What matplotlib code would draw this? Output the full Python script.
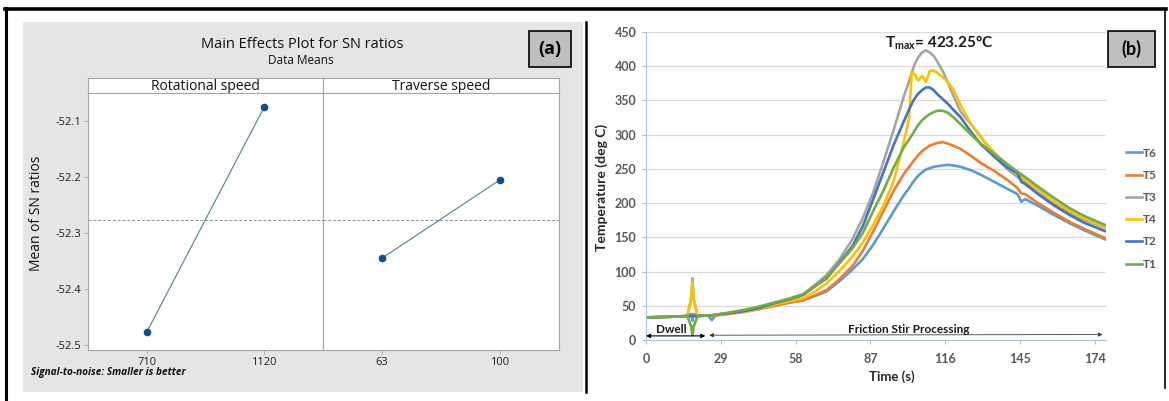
import matplotlib
matplotlib.use("Agg")
import matplotlib.pyplot as plt
from matplotlib.patches import Rectangle

plt.rcParams['font.family'] = ['Open Sans', 'DejaVu Sans']
plt.rcParams['mathtext.fontset'] = 'custom'
plt.rcParams['mathtext.bf'] = 'Lato:bold'
plt.rcParams['mathtext.rm'] = 'Lato'

# ---- (a) main effects for SN ratios ----
rot_levels = ['710', '1120']
rot_sn = [-52.477, -52.075]
trav_levels = ['63', '100']
trav_sn = [-52.345, -52.205]
sn_mean = -52.276
sn_ticks = [-52.5, -52.4, -52.3, -52.2, -52.1]

# ---- (b) thermal cycles ----
time_s = [0, 10, 16, 17.5, 18, 18.5, 20, 24, 25.5, 27, 32, 38, 44, 50, 56,
          61, 66, 70, 75, 80, 84, 88, 92, 96, 100,
          102, 103, 104, 105.5, 107, 108.5, 110, 111.5, 113, 115,
          117, 119, 122, 126, 130, 135, 140, 144, 145.5, 147,
          152, 158, 164, 170, 178]
temp_T6 = [33, 34, 35, 38, 28, 38, 35, 36, 29, 36, 39, 42, 46, 51, 55,
           58, 65, 71, 86, 103, 118, 139, 163, 188, 212,
           222, 228, 233, 240, 245, 249, 251, 253, 254, 255,
           256, 255, 253, 248, 241, 231, 221, 213, 202, 206,
           196, 183, 171, 160, 147]
temp_T5 = [33, 34, 35, 35, 35, 35, 35, 36, 36, 36, 38, 41, 45, 50, 55,
           58, 66, 73, 89, 108, 130, 158, 188, 218, 243,
           253, 258, 263, 270, 276, 280, 284, 286, 288, 289,
           287, 284, 279, 269, 258, 247, 234, 222, 214, 213,
           200, 186, 173, 162, 149]
temp_T3 = [33, 34, 35, 60, 90, 60, 35, 36, 36, 37, 39, 42, 47, 53, 60,
           67, 82, 95, 118, 147, 178, 215, 260, 307, 357,
           378, 390, 402, 413, 420, 423.25, 420, 415, 406, 393,
           376, 358, 333, 315, 296, 268, 250, 238, 234, 230,
           215, 199, 186, 175, 164]
temp_T4 = [33, 34, 35, 60, 85, 60, 35, 36, 36, 37, 39, 41, 46, 52, 57,
           61, 72, 83, 101, 122, 142, 168, 196, 232, 290,
           325, 390, 389, 379, 386, 377, 393, 394, 390, 384,
           377, 367, 343, 315, 295, 274, 255, 242, 238, 234,
           220, 203, 189, 177, 165]
temp_T2 = [33, 34, 35, 35, 35, 35, 35, 36, 36, 37, 39, 42, 47, 54, 60,
           66, 80, 90, 113, 137, 166, 205, 245, 285, 320,
           337, 345, 352, 360, 365, 369, 369, 365, 359, 352,
           345, 337, 325, 304, 285, 268, 252, 244, 231, 228,
           213, 197, 183, 171, 159]
temp_T1 = [33, 34, 35, 20, 7, 20, 35, 36, 36, 37, 40, 44, 49, 55, 61,
           67, 80, 92, 112, 134, 156, 188, 218, 252, 282,
           293, 299, 305, 314, 321, 326, 330, 333, 335, 335,
           332, 326, 315, 300, 286, 272, 257, 246, 242, 238,
           224, 208, 193, 181, 168]
series_names = ['T6', 'T5', 'T3', 'T4', 'T2', 'T1']
series_temps = [temp_T6, temp_T5, temp_T3, temp_T4, temp_T2, temp_T1]
series_colors = ['#5b9bd5', '#ed7d31', '#a5a5a5', '#ffc000', '#4472c4', '#70ad47']
time_ticks = [0, 29, 58, 87, 116, 145, 174]

W, H = 1169, 401


def box(x0, y0, x1, y1):
    # pixel box (top-left origin) -> figure fraction
    return [x0 / W, 1 - y1 / H, (x1 - x0) / W, (y1 - y0) / H]


fig = plt.figure(figsize=(W / 100, H / 100), dpi=100)

# background canvas in pixel units for frames and boxes
bg = fig.add_axes([0, 0, 1, 1])
bg.set_xlim(0, W)
bg.set_ylim(H, 0)
bg.axis('off')
bg.add_patch(Rectangle((23, 22), 560, 370, fc='#e5e5e5', ec='none'))
bg.plot([6, 6], [8, H], color='black', lw=2.2)
bg.plot([5, 1166], [9, 9], color='black', lw=2.6)
bg.plot([1165, 1165], [9, 388], color='black', lw=1.2)
bg.plot([586, 586], [22, 392], color='black', lw=1.8)

# ---------------- panel (a) ----------------
bg.add_patch(Rectangle((529, 31), 42, 36, fc='#bfbfbf', ec='black', lw=1.2))
bg.text(550, 49, '(a)', ha='center', va='center', fontsize=13, weight='bold')
bg.text(302, 44, 'Main Effects Plot for SN ratios', ha='center', va='center',
        fontsize=10.5, color='#111111')
bg.text(301, 61, 'Data Means', ha='center', va='center', fontsize=8.5, color='#111111')
bg.text(36, 213, 'Mean of SN ratios', rotation=90, ha='center', va='center',
        fontsize=10, color='#111111')
bg.text(31, 372, 'Signal-to-noise: Smaller is better', ha='left', va='center',
        fontsize=7.2, style='italic', weight='bold', color='#111111')

panels = [('Rotational speed', rot_levels, rot_sn, (88, 323)),
          ('Traverse speed', trav_levels, trav_sn, (323, 559))]
for i, (name, levels, vals, (x0, x1)) in enumerate(panels):
    strip = fig.add_axes(box(x0, 78, x1, 93))
    strip.set_facecolor('white')
    strip.set_xticks([])
    strip.set_yticks([])
    for sp in strip.spines.values():
        sp.set_color('#a6a6a6')
        sp.set_linewidth(0.8)
    strip.text(0.5, 0.45, name, ha='center', va='center', fontsize=10,
               transform=strip.transAxes, color='#111111')

    ax = fig.add_axes(box(x0, 93, x1, 350))
    ax.set_facecolor('white')
    ax.axhline(sn_mean, color='#8c8c8c', lw=0.7, ls=(0, (3, 2)))
    ax.plot([1, 2], vals, color='#4f7f8f', lw=0.8)
    ax.plot([1, 2], vals, 'o', color='#0d4f8b', ms=4.5)
    ax.set_xlim(0.5, 2.5)
    ax.set_ylim(-52.509, -52.05)
    ax.set_xticks([1, 2])
    ax.set_xticklabels(levels)
    ax.set_yticks(sn_ticks)
    ax.set_yticklabels([f'{v:g}' for v in sn_ticks])
    for sp in ax.spines.values():
        sp.set_color('#a6a6a6')
        sp.set_linewidth(0.8)
    ax.tick_params(colors='#a6a6a6', labelcolor='#222222', labelsize=8,
                   length=3, width=0.6, pad=2)
    if i == 1:
        ax.tick_params(axis='y', left=False, labelleft=False)

# ---------------- panel (b) ----------------
fb = ['Lato', 'DejaVu Sans']
grey_txt = '#595959'
axis_col = '#a9c1da'

bg.add_patch(Rectangle((1108, 31), 47, 36, fc='#bfbfbf', ec='black', lw=1.2))
bg.text(1131.5, 49, '(b)', ha='center', va='center', fontsize=13, weight='bold',
        family=fb)
bg.text(602, 187, 'Temperature (deg C)', rotation=90, ha='center', va='center',
        fontsize=10, weight='bold', family=fb, color='#262626')
bg.text(892, 377, 'Time (s)', ha='center', va='center', fontsize=9.5,
        weight='bold', family=fb, color='#262626')

axb = fig.add_axes(box(646, 32, 1106, 340))
axb.set_facecolor('none')
handles = []
for name, temps, col in zip(series_names, series_temps, series_colors):
    ln, = axb.plot(time_s, temps, color=col, lw=1.9, solid_joinstyle='round')
    handles.append(ln)
axb.set_xlim(0, 178.3)
axb.set_ylim(0, 450)
axb.set_yticks(range(0, 451, 50))
axb.set_xticks(time_ticks)
axb.yaxis.grid(True, color='#d9d9d9', lw=0.9)
axb.set_axisbelow(True)
for s in ['top', 'right']:
    axb.spines[s].set_visible(False)
axb.spines['left'].set_color(axis_col)
axb.spines['bottom'].set_color(axis_col)
axb.tick_params(colors=axis_col, labelcolor=grey_txt, labelsize=9, length=3, width=0.8)
axb.tick_params(axis='y', pad=4)
axb.tick_params(axis='x', pad=6.5)
for lab in axb.get_xticklabels() + axb.get_yticklabels():
    lab.set_fontweight('bold')
    lab.set_family(fb)

axb.annotate('', xy=(0, 6), xytext=(23, 6),
             arrowprops=dict(arrowstyle='<|-|>', color='black', lw=0.8,
                             mutation_scale=6, shrinkA=0, shrinkB=0))
axb.annotate('', xy=(24.5, 7), xytext=(177, 8),
             arrowprops=dict(arrowstyle='<|-|>', color='#404040', lw=0.6,
                             mutation_scale=6, shrinkA=0, shrinkB=0))
axb.text(9.7, 16, 'Dwell', ha='center', va='center', fontsize=8.5, weight='bold',
         family=fb, color='#1a1a1a')
axb.text(102, 16, 'Friction Stir Processing', ha='center', va='center',
         fontsize=8.5, weight='bold', family=fb, color='#1a1a1a')
axb.text(92.5, 434, r'$\mathbf{T_{max}}$= 423.25°C', ha='left', va='center',
         fontsize=11, weight='bold', family=fb, color='#1a1a1a')

fig.legend(handles, series_names, loc='upper left',
           bbox_to_anchor=(1115 / W, 1 - 137 / H), frameon=False,
           handlelength=1.4, handletextpad=0.1, labelspacing=0.95,
           labelcolor=grey_txt, prop={'family': fb, 'weight': 'bold', 'size': 8.5})

fig.savefig('out.png', dpi=100)
